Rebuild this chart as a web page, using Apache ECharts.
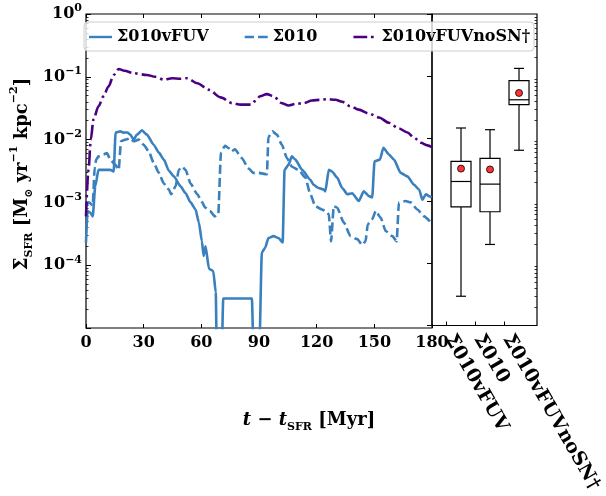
<!DOCTYPE html>
<html><head><meta charset="utf-8">
<script src="https://cdn.jsdelivr.net/npm/echarts@6/dist/echarts.min.js"></script>
<style>html,body{margin:0;padding:0;background:#fff}#c{width:606px;height:496px}</style>
</head><body><div id="c"></div>
<script>
// ---- data ----
const seriesNames = ['Σ010vFUV', 'Σ010', 'Σ010vFUVnoSN†'];

const fuvT = [0,0.8,2.2,3.5,4.8,6.5,9.1,12.6,14.4,15.4,17.8,19.6,21.5,23,24.8,26.5,29.1,31.7,35.2,37.9,40.5,43.1,45.7,49.2,51.8,54.4,57,58.7,60.3,61.2,62.2,64,66.2,67.5,68.3,70.2,71.4,86.3,87.6,89.7,91.5,93.2,94.9,97.5,100.2,102.3,103.3,105.4,107.1,108.9,112.4,116.7,118.4,121,123.7,124.5,126.3,128,130.6,133.3,135.9,138.5,141.9,144.5,147.2,148.9,150.1,152.9,154.7,157.6,160.2,163.7,167.2,170.7,173.3,175,176.8,178.5,179.8];
const fuvV = [2.3e-4,7.3e-4,6.9e-4,6.0e-4,1.8e-3,3.3e-3,3.3e-3,3.3e-3,3.1e-3,1.3e-2,1.35e-2,1.29e-2,1.3e-2,1.2e-2,1.0e-2,1.2e-2,1.4e-2,1.2e-2,8.3e-3,6.2e-3,4.8e-3,3.2e-3,2.6e-3,1.8e-3,1.4e-3,1.0e-3,7.7e-4,4.8e-4,2.4e-4,1.4e-4,2.0e-4,8.7e-5,8.1e-5,3.7e-5,1e-6,1e-6,2.95e-5,2.95e-5,1e-6,1e-6,1.6e-4,1.9e-4,2.7e-4,2.9e-4,2.7e-4,2.3e-4,3.3e-3,4.0e-3,5.4e-3,4.8e-3,3.3e-3,2.3e-3,1.9e-3,1.7e-3,1.6e-3,1.5e-3,3.3e-3,3.1e-3,2.5e-3,1.7e-3,1.35e-3,1.4e-3,1.05e-3,1.5e-3,1.26e-3,1.2e-3,4.5e-3,4.8e-3,7.4e-3,5.8e-3,4.8e-3,2.95e-3,2.6e-3,1.9e-3,1.6e-3,1.1e-3,1.35e-3,1.26e-3,1.2e-3];

const s010T = [0,1.5,3.5,4.5,5.3,6.5,9.1,10.9,12.6,15.2,17,18.2,20.5,23,24.8,27.4,30,32.6,35.2,37.9,40.5,43.1,44.3,46.6,48.3,50,51.8,54.4,57.9,60.5,61.9,64.5,67.1,68.8,70.2,72.3,74,75.8,77.5,81,84.5,87.1,89.7,94.1,94.9,97,99.3,101.9,104.5,107.1,110.6,114.1,116.7,119.3,122.8,124.5,126.3,127.5,128.9,130.6,134.1,137.6,141.1,143.7,145.4,146.6,148.9,150.7,153.3,155.9,159.4,161.6,162.8,166.3,168.9,172.4,175.9,179.4];
const s010V = [8.7e-4,1.0e-3,9.0e-4,3.5e-3,4.8e-3,5.4e-3,5.8e-3,6.1e-3,4.8e-3,4.0e-3,3.3e-3,9.4e-3,1.0e-2,1.05e-2,9.4e-3,1.0e-2,8.3e-3,6.5e-3,4.3e-3,2.95e-3,2.0e-3,1.6e-3,1.35e-3,1.8e-3,3.3e-3,3.7e-3,3.3e-3,2.0e-3,1.35e-3,1.0e-3,8.3e-4,7.3e-4,6.0e-4,6.4e-4,6.2e-3,8.0e-3,7.4e-3,6.5e-3,7.0e-3,5.1e-3,3.5e-3,2.95e-3,2.95e-3,2.8e-3,1.1e-2,1.35e-2,1.2e-2,8.3e-3,5.1e-3,3.7e-3,3.3e-3,2.5e-3,1.35e-3,8.7e-4,7.7e-4,7.3e-4,6.5e-4,2.4e-4,8.7e-4,8.3e-4,4.8e-4,2.9e-4,2.6e-4,2.1e-4,2.4e-4,4.5e-4,5.4e-4,7.3e-4,5.7e-4,3.5e-4,2.9e-4,2.4e-4,1.0e-3,1.05e-3,1.0e-3,7.7e-4,6.0e-4,4.8e-4];

const noSNT = [0,1.3,2.5,3.9,6.5,9.1,11.7,14.4,17,20,24.8,31.7,36.1,40.5,44.8,49.2,52.6,57.9,64,70,76.1,80.5,85.7,88,90.6,94.1,97.5,101.9,105.4,108.9,113.2,117.6,121.9,125.4,129.8,133.3,137.6,141.9,147.2,152.4,157.6,162.8,167.2,170.7,174.2,177.6,180];
const noSNV = [6e-4,3.3e-3,1.0e-2,2.1e-2,3.4e-2,4.9e-2,7.0e-2,1.07e-1,1.33e-1,1.25e-1,1.14e-1,1.07e-1,1.0e-1,9.0e-2,9.5e-2,9.3e-2,9.5e-2,7.9e-2,6.2e-2,4.7e-2,3.8e-2,3.6e-2,3.6e-2,4.1e-2,4.9e-2,5.3e-2,4.9e-2,3.8e-2,3.5e-2,3.7e-2,3.8e-2,4.2e-2,4.3e-2,4.4e-2,4.3e-2,4.0e-2,3.4e-2,3.0e-2,2.6e-2,2.25e-2,1.85e-2,1.5e-2,1.3e-2,1.07e-2,8.9e-3,8.1e-3,7.6e-3];

// box statistics (one entry per series)
const boxPos  = [1, 2, 3];
const boxMin  = [2.95e-5, 2.0e-4, 6.5e-3];
const boxQ1   = [8.0e-4, 6.7e-4, 3.5e-2];
const boxMed  = [2.05e-3, 1.86e-3, 4.2e-2];
const boxQ3   = [4.3e-3, 4.8e-3, 8.5e-2];
const boxMax  = [1.48e-2, 1.39e-2, 1.34e-1];
const boxMean = [3.3e-3, 3.2e-3, 5.4e-2];
const boxTickPos = [0.5, 1.5, 2.5];

// ---- styling ----
const FONT = 'DejaVu Serif';
const BLUE = '#3a80be';
const PURPLE = '#4b0082';
const minorTicks = [];
for (let k = -5; k <= -1; k++) for (let m = 2; m <= 9; m++) minorTicks.push(+(m * Math.pow(10, k)).toPrecision(3));

const legendIcons = [
  'path://M0,0H25V2.6H0Z',
  'path://M0,0H10V2.6H0Z M14.5,0H25V2.6H14.5Z',
  'path://M0,0H15V2.6H0Z M19,0H22V2.6H19Z M25,0H25V2.6H25Z'
];

function pair(t, v) { return t.map((x, i) => [x, v[i]]); }
function logLabel(v) {
  const e = Math.round(Math.log10(v));
  if (e <= -5) return '';
  return '{b|10}{s|' + (e === 0 ? '0' : '\u2212' + (-e)) + '}';
}

const chart = echarts.init(document.getElementById('c'), null, {renderer: 'canvas'});
const tickLbl = {fontFamily: FONT, fontWeight: 'bold', fontSize: 16, color: '#000'};

chart.setOption({
  animation: false,
  backgroundColor: '#fff',
  grid: [
    {left: 86, top: 14, width: 346, height: 314, show: true, borderColor: '#000', borderWidth: 1.2, backgroundColor: 'transparent'},
    {left: 432, top: 14, width: 105, height: 314, show: true, borderColor: '#000', borderWidth: 1.2, backgroundColor: 'transparent'}
  ],
  legend: {
    left: 84, top: 22, padding: [7, 4, 6, 5], itemGap: 36, itemWidth: 23, itemHeight: 12,
    borderColor: '#cccccc', borderWidth: 1, borderRadius: 4, backgroundColor: 'rgba(255,255,255,0.8)',
    textStyle: {fontFamily: FONT, fontWeight: 'bold', fontSize: 16, color: '#000'},
    data: seriesNames.map((n, i) => ({name: n, icon: legendIcons[i]}))
  },
  xAxis: [
    {gridIndex: 0, type: 'value', min: 0, max: 180, interval: 30, position: 'bottom',
     axisLine: {show: false}, splitLine: {show: false},
     axisTick: {inside: true, length: 4, lineStyle: {color: '#000', width: 1}},
     axisLabel: Object.assign({margin: 7}, tickLbl)},
    {gridIndex: 1, type: 'value', min: 0, max: 3.62, position: 'bottom',
     axisLine: {show: false}, splitLine: {show: false},
     axisTick: {inside: true, length: 4, customValues: boxTickPos, lineStyle: {color: '#000', width: 1}},
     axisLabel: Object.assign({margin: 6, rotate: -60, customValues: boxTickPos, padding: [0, 0, 16, 5],
       formatter: v => seriesNames[Math.round(v - 0.5)]}, tickLbl, {fontSize: 19})},
    {gridIndex: 0, type: 'value', min: 0, max: 180, interval: 30, position: 'top',
     axisLine: {show: false}, splitLine: {show: false}, axisLabel: {show: false},
     axisTick: {inside: true, length: 4, lineStyle: {color: '#000', width: 1}}}
  ],
  yAxis: [
    {gridIndex: 0, type: 'log', logBase: 10, min: 1e-5, max: 1, position: 'left',
     axisLine: {show: false}, splitLine: {show: false},
     axisTick: {inside: true, length: 5, lineStyle: {color: '#000', width: 1}},
     axisLabel: {margin: 4, formatter: logLabel, rich: {
       b: {fontFamily: FONT, fontWeight: 'bold', fontSize: 16, color: '#000', lineHeight: 22},
       s: {fontFamily: FONT, fontWeight: 'bold', fontSize: 11, color: '#000', lineHeight: 12, verticalAlign: 'top'}}}},
    {gridIndex: 0, type: 'log', logBase: 10, min: 1e-5, max: 1, position: 'left',
     axisLine: {show: false}, splitLine: {show: false}, axisLabel: {show: false},
     axisTick: {inside: true, length: 2.5, customValues: minorTicks, lineStyle: {color: '#000', width: 0.8}}},
    {gridIndex: 1, type: 'log', logBase: 10, min: 1e-5, max: 1, position: 'right',
     axisLine: {show: false}, splitLine: {show: false}, axisLabel: {show: false},
     axisTick: {inside: true, length: 5, lineStyle: {color: '#000', width: 1}}},
    {gridIndex: 1, type: 'log', logBase: 10, min: 1e-5, max: 1, position: 'right',
     axisLine: {show: false}, splitLine: {show: false}, axisLabel: {show: false},
     axisTick: {inside: true, length: 2.5, customValues: minorTicks, lineStyle: {color: '#000', width: 0.8}}}
  ],
  series: [
    {name: seriesNames[0], type: 'line', xAxisIndex: 0, yAxisIndex: 0, data: pair(fuvT, fuvV),
     symbol: 'none', showSymbol: false, clip: true, smooth: 0.2, smoothMonotone: 'x', z: 3,
     lineStyle: {color: BLUE, width: 2.6, type: 'solid', cap: 'butt', join: 'round'}, itemStyle: {color: BLUE}},
    {name: seriesNames[1], type: 'line', xAxisIndex: 0, yAxisIndex: 0, data: pair(s010T, s010V),
     symbol: 'none', showSymbol: false, clip: true, smooth: 0.2, smoothMonotone: 'x', z: 3,
     lineStyle: {color: BLUE, width: 2.6, type: [9, 4], cap: 'butt'}, itemStyle: {color: BLUE}},
    {name: seriesNames[2], type: 'line', xAxisIndex: 0, yAxisIndex: 0, data: pair(noSNT, noSNV),
     symbol: 'none', showSymbol: false, clip: true, smooth: 0.3, smoothMonotone: 'x', z: 3,
     lineStyle: {color: PURPLE, width: 2.6, type: [15, 4, 2.5, 4], cap: 'butt'}, itemStyle: {color: PURPLE}},
    {type: 'custom', xAxisIndex: 1, yAxisIndex: 2, silent: true, z: 4,
     data: boxPos.map((p, i) => [p, boxMin[i], boxQ1[i], boxMed[i], boxQ3[i], boxMax[i]]),
     encode: {x: 0, y: [1, 2, 3, 4, 5]},
     renderItem: function (params, api) {
       const x = api.value(0);
       const pt = k => api.coord([x, api.value(k)]);
       const pMin = pt(1), pQ1 = pt(2), pMed = pt(3), pQ3 = pt(4), pMax = pt(5);
       const cx = pMed[0], hw = 10, cw = 5;
       const st = {stroke: '#000', lineWidth: 1.2, fill: null};
       const ln = (x1, y1, x2, y2) => ({type: 'line', shape: {x1, y1, x2, y2}, style: st});
       return {type: 'group', children: [
         {type: 'rect', shape: {x: cx - hw, y: pQ3[1], width: 2 * hw, height: pQ1[1] - pQ3[1]}, style: {stroke: '#000', lineWidth: 1.2, fill: 'rgba(0,0,0,0)'}},
         ln(cx - hw, pMed[1], cx + hw, pMed[1]),
         ln(cx, pQ3[1], cx, pMax[1]),
         ln(cx, pQ1[1], cx, pMin[1]),
         ln(cx - cw, pMax[1], cx + cw, pMax[1]),
         ln(cx - cw, pMin[1], cx + cw, pMin[1])
       ]};
     }},
    {type: 'scatter', xAxisIndex: 1, yAxisIndex: 2, z: 5, silent: true,
     data: boxPos.map((p, i) => [p, boxMean[i]]), symbol: 'circle', symbolSize: 7,
     itemStyle: {color: '#ff0000', borderColor: '#000', borderWidth: 1}}
  ],
  graphic: [
    {type: 'text', x: 22, y: 174, rotation: Math.PI / 2, silent: true,
     style: {text: '{m|Σ}{sub|SFR}{m| [M}{sub|⊙}{m| yr}{sup|\u22121}{m| kpc}{sup|\u22122}{m|]}',
       align: 'center', verticalAlign: 'middle',
       rich: {
         m: {fontFamily: FONT, fontWeight: 'bold', fontSize: 18, fill: '#000', lineHeight: 26},
         sub: {fontFamily: FONT, fontWeight: 'bold', fontSize: 11, fill: '#000', lineHeight: 12, verticalAlign: 'bottom'},
         sup: {fontFamily: FONT, fontWeight: 'bold', fontSize: 11, fill: '#000', lineHeight: 12, verticalAlign: 'top'}
       }}},
    {type: 'text', x: 309, y: 420, silent: true,
     style: {text: '{i|t}{m| \u2212 }{i|t}{sub|SFR}{m| [Myr]}',
       align: 'center', verticalAlign: 'middle',
       rich: {
         m: {fontFamily: FONT, fontWeight: 'bold', fontSize: 18, fill: '#000', lineHeight: 26},
         i: {fontFamily: FONT, fontWeight: 'bold', fontStyle: 'italic', fontSize: 18, fill: '#000', lineHeight: 26},
         sub: {fontFamily: FONT, fontWeight: 'bold', fontSize: 11, fill: '#000', lineHeight: 12, verticalAlign: 'bottom'}
       }}}
  ]
});
</script>
</body></html>
